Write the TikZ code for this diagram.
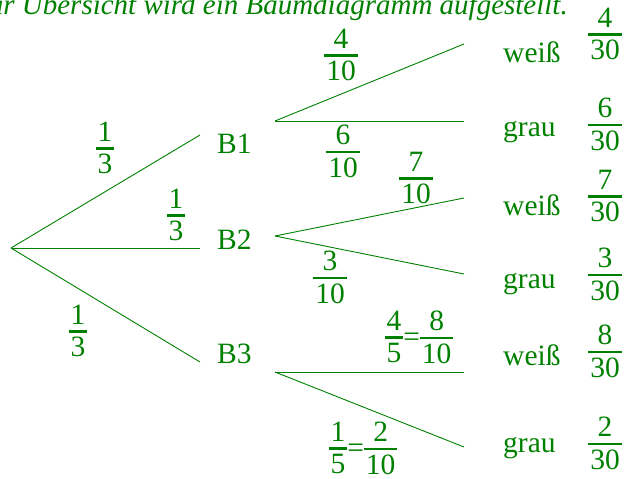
\documentclass[tikz,border=0pt]{standalone}
\usepackage{fontspec}
\setmainfont{Liberation Serif}
\usepackage{array}
\definecolor{tg}{RGB}{0,128,0}
\newcommand\fr[2]{{\renewcommand\arraystretch{0.6}\setlength\arrayrulewidth{2.5pt}%
\begin{tabular}{@{\kern2pt}c@{\kern2pt}}#1\\\hline\rule{0pt}{24pt}#2\end{tabular}}}
\begin{document}
\begin{tikzpicture}[x=1pt,y=-1pt,
  every node/.style={text=tg, font=\fontsize{29.5}{35}\selectfont},
  br/.style={draw=tg, line width=0.9pt},
  lbl/.style={anchor=base west, inner sep=0pt},
  frn/.style={inner sep=0pt, yshift=-2pt}]
\useasboundingbox (0,0) rectangle (625,479);
\clip (0,0) rectangle (625,479);
\node[anchor=base east, inner sep=0pt, font=\fontsize{29}{35}\selectfont\itshape] (title) at (568,14) {Zur Übersicht wird ein Baumdiagramm aufgestellt.};
% first level
\coordinate (r) at (11,248);
\coordinate (e1) at (200,135);
\coordinate (e2) at (200,248);
\coordinate (e3) at (200,362);
\draw[br] (r) -- (e1);
\draw[br] (r) -- (e2);
\draw[br] (r) -- (e3);
\node[lbl] (B1) at (217,153) {B1};
\node[lbl] (B2) at (217,249) {B2};
\node[lbl] (B3) at (217,363) {B3};
\node[frn] (p1) at (105,149) {\fr{1}{3}};
\node[frn] (p2) at (176,216) {\fr{1}{3}};
\node[frn] (p3) at (78,332) {\fr{1}{3}};
% second level
\coordinate (s1) at (275,121);
\coordinate (s1w) at (464,44);
\coordinate (s1g) at (464,121);
\coordinate (s2) at (275,236);
\coordinate (s2w) at (464,198);
\coordinate (s2g) at (464,274);
\coordinate (s3) at (275,372);
\coordinate (s3w) at (464,372);
\coordinate (s3g) at (464,447);
\draw[br] (s1) -- (s1w);
\draw[br] (s1) -- (s1g);
\draw[br] (s2) -- (s2w);
\draw[br] (s2) -- (s2g);
\draw[br] (s3) -- (s3w);
\draw[br] (s3) -- (s3g);
\node[frn] (q1) at (341,56) {\fr{4}{10}};
\node[frn] (q2) at (343,152) {\fr{6}{10}};
\node[frn] (q3) at (416,179) {\fr{7}{10}};
\node[frn] (q4) at (330,278) {\fr{3}{10}};
\node[frn] (q5) at (419,338) {\fr{4}{5}=\fr{8}{10}};
\node[frn] (q6) at (363,449) {\fr{1}{5}=\fr{2}{10}};
% leaves
\node[lbl] (w1) at (503,63) {weiß};
\node[lbl] (g1) at (503,136) {grau};
\node[lbl] (w2) at (503,215) {weiß};
\node[lbl] (g2) at (503,288) {grau};
\node[lbl] (w3) at (503,365) {weiß};
\node[lbl] (g3) at (503,452) {grau};
\node[frn] (t1) at (605,35) {\fr{4}{30}};
\node[frn] (t2) at (605,125) {\fr{6}{30}};
\node[frn] (t3) at (605,197) {\fr{7}{30}};
\node[frn] (t4) at (605,275) {\fr{3}{30}};
\node[frn] (t5) at (605,352) {\fr{8}{30}};
\node[frn] (t6) at (605,444) {\fr{2}{30}};
\end{tikzpicture}
\end{document}
